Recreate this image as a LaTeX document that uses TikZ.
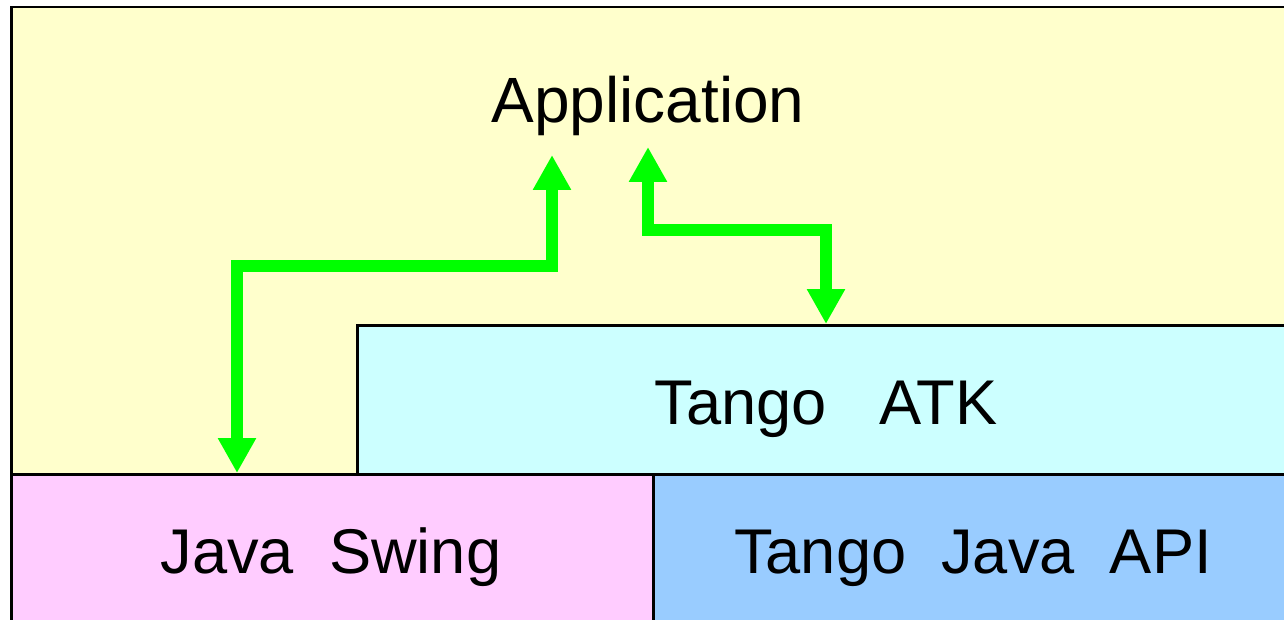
\documentclass[tikz,border=0pt]{standalone}
\usepackage{fontspec}
\setmainfont{Liberation Sans}
\usetikzlibrary{arrows.meta}
\definecolor{appyellow}{HTML}{FFFFCC}
\definecolor{atkcyan}{HTML}{CCFFFF}
\definecolor{swingpink}{HTML}{FFCCFF}
\definecolor{apiblue}{HTML}{99CCFF}
\definecolor{linkgreen}{HTML}{00FF00}
\begin{document}
\begin{tikzpicture}[x=0.5pt,y=-0.5pt,
  layer/.style={draw=black, line width=1.25pt, inner sep=0pt, anchor=north west},
  lbl/.style={anchor=base, inner sep=0pt, font=\fontsize{31.6}{38}\selectfont},
  link/.style={draw=linkgreen, line width=6.25pt, line join=miter,
    {Triangle[width=18pt,length=17.5pt]}-{Triangle[width=18pt,length=17.5pt]}}]
\useasboundingbox (0,0) rectangle (1284,620);
\clip (0,0) rectangle (1284,620);
% layers
\node[layer, fill=appyellow, minimum width=642pt, minimum height=233.5pt] (appbox) at (10,6) {};
\node[layer, fill=atkcyan, minimum width=469pt, minimum height=74.5pt] (atk) at (356,324) {};
\node[layer, fill=swingpink, minimum width=321pt, minimum height=83.5pt] (swing) at (10,473) {};
\node[layer, fill=apiblue, minimum width=321pt, minimum height=83.5pt] (api) at (652,473) {};
% labels
\node[lbl, font=\fontsize{32}{38}\selectfont] (apptext) at (648,123) {Application};
\node[lbl] (atktext) at (826,424) {Tango\ \ \ ATK};
\node[lbl] (swingtext) at (331,573) {Java\ \ Swing};
\node[lbl] (apitext) at (973,573) {Tango\ \ Java\ \ API};
% connectors
\coordinate (bend1a) at (237,266);
\coordinate (bend1b) at (552,266);
\coordinate (tip1) at (552,155);
\coordinate (bend2a) at (648,230);
\coordinate (bend2b) at (826,230);
\coordinate (tip2) at (648,147);
\draw[link] (bend1a |- swing.north) -- (bend1a) -- (bend1b) -- (tip1);
\draw[link] (tip2) -- (bend2a) -- (bend2b) -- (bend2b |- atk.north);
\end{tikzpicture}
\end{document}
